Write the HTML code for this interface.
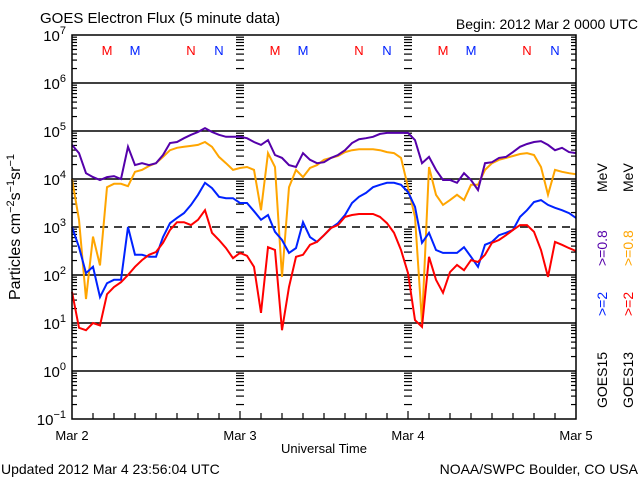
<!DOCTYPE html>
<html><head><meta charset="utf-8"><style>
html,body{margin:0;padding:0;background:#fff;}
svg{display:block;font-family:"Liberation Sans",sans-serif;}
</style></head><body>
<svg id="chart" width="640" height="480">
<rect x="0" y="0" width="640" height="480" fill="#fff"/>
<text x="40" y="23" font-size="15">GOES Electron Flux (5 minute data)</text>
<text x="638" y="29" font-size="14" text-anchor="end">Begin: 2012 Mar 2 0000 UTC</text>
<g id="grid"></g>
<g id="ticks"></g>
<g id="series"></g>
<g id="labels"></g>
<rect x="72" y="35" width="504" height="384" fill="none" stroke="#000" stroke-width="1.5"/>
<text transform="translate(20,227) rotate(-90)" font-size="16" text-anchor="middle">Particles cm<tspan dy="-6" font-size="11">−2</tspan><tspan dy="6">s</tspan><tspan dy="-6" font-size="11">−1</tspan><tspan dy="6">sr</tspan><tspan dy="-6" font-size="11">−1</tspan></text>
<text x="324" y="453" font-size="13" text-anchor="middle">Universal Time</text>
<text x="1" y="474" font-size="14">Updated 2012 Mar  4 23:56:04 UTC</text>
<text x="638" y="474" font-size="14" text-anchor="end">NOAA/SWPC Boulder, CO USA</text>
<g font-size="14">
<text transform="translate(607,316) rotate(-90)" fill="#0022ff">&gt;=2</text>
<text transform="translate(607,266) rotate(-90)" fill="#5500aa">&gt;=0.8</text>
<text transform="translate(607,192) rotate(-90)" fill="#000">MeV</text>
<text transform="translate(607,408) rotate(-90)" fill="#000">GOES15</text>
<text transform="translate(633,316) rotate(-90)" fill="#ff0000">&gt;=2</text>
<text transform="translate(633,266) rotate(-90)" fill="#ffa500">&gt;=0.8</text>
<text transform="translate(633,192) rotate(-90)" fill="#000">MeV</text>
<text transform="translate(633,408) rotate(-90)" fill="#000">GOES13</text>
</g>
</svg>
<script>
// log10 flux values, hourly from Mar 2 00:00 (hours 0..72)
const hours = Array.from({length:73},(_,i)=>i);
const purple = [4.71,4.54,4.12,4.04,3.98,4.04,4.06,4.0,4.67,4.29,4.33,4.29,4.33,4.5,4.75,4.77,4.85,4.92,4.98,5.06,4.98,4.92,4.88,4.88,
 4.88,4.85,4.77,4.71,4.81,4.5,4.44,4.29,4.25,4.54,4.4,4.33,4.35,4.44,4.5,4.6,4.75,4.83,4.85,4.88,4.94,4.96,4.96,4.96,
 4.96,4.81,4.33,4.46,4.19,3.98,3.98,3.92,4.12,3.98,3.77,4.33,4.35,4.44,4.46,4.56,4.67,4.73,4.77,4.79,4.71,4.6,4.65,4.56,4.54];
const orange = [4.0,3.15,1.5,2.8,2.2,3.83,3.9,3.9,3.85,4.15,4.19,4.27,4.33,4.46,4.6,4.65,4.67,4.69,4.71,4.77,4.67,4.46,4.33,4.19,
 4.23,4.25,4.19,3.35,4.54,4.25,1.96,3.83,4.19,4.04,4.23,4.29,4.4,4.44,4.48,4.56,4.6,4.62,4.62,4.62,4.6,4.56,4.54,4.44,
 3.83,3.21,1.0,4.25,3.67,3.46,3.56,3.67,3.56,3.88,3.88,4.19,4.33,4.4,4.44,4.48,4.52,4.54,4.5,4.25,3.67,4.19,4.15,4.12,4.1];
const blue = [3.0,2.58,2.04,2.17,1.54,1.83,1.9,1.9,3.0,2.42,2.42,2.38,2.38,2.79,3.08,3.19,3.29,3.46,3.67,3.92,3.81,3.63,3.6,3.6,
 3.5,3.5,3.33,3.15,3.25,2.9,2.73,2.46,2.56,3.1,2.79,2.69,2.83,2.98,3.08,3.25,3.5,3.63,3.71,3.83,3.88,3.92,3.92,3.88,
 3.73,3.42,2.67,2.88,2.52,2.46,2.46,2.46,2.58,2.38,2.17,2.63,2.69,2.83,2.88,2.94,3.21,3.35,3.52,3.56,3.46,3.4,3.35,3.29,3.19];
const red = [1.65,0.9,0.85,1.0,0.95,1.6,1.75,1.85,2.0,2.17,2.31,2.42,2.48,2.67,2.94,3.1,3.1,3.04,3.15,3.35,2.88,2.73,2.56,2.35,
 2.46,2.4,2.17,1.21,2.58,2.52,0.85,1.75,2.38,2.42,2.63,2.69,2.83,2.98,3.04,3.21,3.25,3.27,3.27,3.27,3.21,3.08,2.88,2.52,
 2.04,1.06,0.92,2.38,1.9,1.63,2.06,2.21,2.1,2.31,2.27,2.42,2.67,2.73,2.83,2.94,3.04,3.04,2.9,2.52,1.96,2.69,2.63,2.56,2.5];
const decadeLabels = [7,6,5,4,3,2,1,0,-1];
const dayLabels = ["Mar 2","Mar 3","Mar 4","Mar 5"];
const markerLabels = ["M","M","N","N","M","M","N","N","M","M","N","N"];
const markerHours = [5,9,17,21,29,33,41,45,53,57,65,69];

const NS="http://www.w3.org/2000/svg";
const X0=72,X1=576,Y0=35,Y1=419;
const xs = h => X0 + (X1-X0)*h/72;
const ys = v => Y0 + (7-v)*(Y1-Y0)/8;
function mk(tag,attrs,parent){const e=document.createElementNS(NS,tag);for(const k in attrs)e.setAttribute(k,attrs[k]);parent.appendChild(e);return e;}
const grid=document.getElementById('grid'),ticks=document.getElementById('ticks'),ser=document.getElementById('series'),lab=document.getElementById('labels');

decadeLabels.forEach(d=>{
  const y=ys(d);
  if(d<7&&d>-1){
    const l=mk('line',{x1:X0,x2:X1,y1:y,y2:y,stroke:'#000','stroke-width':1.5},grid);
    if(d===3) l.setAttribute('stroke-dasharray','8,6');
    
    
  }
  const t=mk('text',{x:66,y:y+6,'font-size':15,'text-anchor':'end'},lab);
  
  
  t.textContent='10';
  const s=mk('tspan',{dy:-7,'font-size':11},t); s.textContent=d<0?'−'+(-d):String(d);
  if(d>-1){
    for(let m=2;m<=9;m++){
      const yy=ys(d-1+Math.log10(m));
      [[X0,X0+5],[X1-5,X1],[xs(24)-4,xs(24)+4],[xs(48)-4,xs(48)+4]].forEach(p=>{
        const tk=mk('line',{x1:p[0],x2:p[1],y1:yy,y2:yy,stroke:'#000','stroke-width':1.2},ticks);
        
        
      });
    }
  }
});
for(let h=3;h<72;h+=3){
  const tk=mk('line',{x1:xs(h),x2:xs(h),y1:Y1,y2:Y1-(h%24===0?8:6),stroke:'#000','stroke-width':1.2},ticks);
  
  
}
dayLabels.forEach((s,i)=>{
  const t=mk('text',{x:xs(i*24),y:440,'font-size':13,'text-anchor':'middle'},lab);
  
  
  t.textContent=s;
});
markerLabels.forEach((s,i)=>{
  const t=mk('text',{x:xs(markerHours[i]),y:55,'font-size':13,'text-anchor':'middle',fill:i%2===0?'#ff0000':'#0022ff'},lab);
  
  
  t.textContent=s;
});
function draw(vals,color,name){
  const pts=hours.map((h,i)=>xs(h).toFixed(1)+','+ys(vals[i]).toFixed(1)).join(' ');
  const p=mk('polyline',{points:pts,fill:'none',stroke:color,'stroke-width':2,'stroke-linejoin':'miter'},ser);
  
  
}
draw(orange,'#ffa500','series-goes13-08mev');
draw(purple,'#5500aa','series-goes15-08mev');
draw(blue,'#0022ff','series-goes15-2mev');
draw(red,'#ff0000','series-goes13-2mev');
</script>
</body></html>
